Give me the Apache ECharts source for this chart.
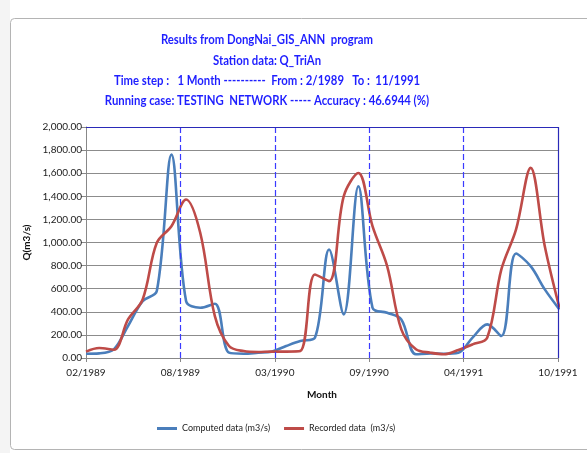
<!DOCTYPE html>
<html>
<head>
<meta charset="utf-8">
<script src="https://cdn.jsdelivr.net/npm/echarts@6/dist/echarts.min.js"></script>
<style>
html,body{margin:0;padding:0;background:#fff;}
#c{width:587px;height:453px;}
</style>
</head>
<body>
<div id="c"></div>
<script>
// Months from 02/1989 to 11/1991
var months = ['1989-02','1989-03','1989-04','1989-05','1989-06','1989-07','1989-08','1989-09','1989-10','1989-11','1989-12',
  '1990-01','1990-02','1990-03','1990-04','1990-05','1990-06','1990-07','1990-08','1990-09','1990-10','1990-11','1990-12',
  '1991-01','1991-02','1991-03','1991-04','1991-05','1991-06','1991-07','1991-08','1991-09','1991-10','1991-11'];
var computed = [37,40,75,277,493,580,1761,493,435,470,46,37,46,55,104,147,176,939,378,1487,435,392,334,32,40,37,46,176,291,190,905,795,594,421];
var recorded = [55,86,72,334,507,997,1141,1372,1084,363,104,60,52,55,55,60,723,666,1400,1602,1141,795,248,75,46,32,69,118,176,767,1112,1646,968,435];
var xTickValues = [200,400,600,800]; // interior day ticks after 02/1989 (08/1989 .. 04/1991)
var titles = ['Results from DongNai_GIS_ANN  program','Station data: Q_TriAn',
  'Time step :   1 Month ----------  From : 2/1989   To :  11/1991',
  'Running case: TESTING  NETWORK ----- Accuracy : 46.6944 (%)'];

var startUTC = Date.UTC(1989,1,1);
function dayOf(m){var p=m.split('-');return (Date.UTC(+p[0],+p[1]-1,1)-startUTC)/86400000;}
function fmt(v){var d=new Date(startUTC+v*86400000);var mm=d.getUTCMonth()+1;return (mm<10?'0':'')+mm+'/'+d.getUTCFullYear();}
var compData = months.map(function(m,i){return [dayOf(m),computed[i]];});
var recData = months.map(function(m,i){return [dayOf(m),recorded[i]];});

var titleY = [40,61,81,101];
var graphics = [
  {type:'rect',shape:{x:10.5,y:18.5,width:600,height:431,r:4},style:{fill:'none',stroke:'#b4b4b4',lineWidth:1},z:-1},
  {type:'rect',shape:{x:0,y:0,width:10,height:453},style:{fill:'#f4f4f4'},z:-2}
];
titles.forEach(function(t,i){
  graphics.push({type:'text',x:267,y:titleY[i],scaleX:0.84,
    style:{text:t,textAlign:'center',textVerticalAlign:'middle',fill:'#1f1fff',
      font:'bold 13.5px Lato, sans-serif'}});
});

var dashMarks = xTickValues.map(function(v){
  return [{coord:[v,0],lineStyle:{color:'#3a3aff',type:[6,3],width:1.2}},{coord:[v,2000]}];
});

var chart = echarts.init(document.getElementById('c'));
chart.setOption({
  animation:false,
  backgroundColor:'#fff',
  graphic:graphics,
  grid:{left:86,right:29,top:127,bottom:95},
  legend:{
    bottom:15,left:152,itemWidth:20,itemHeight:3,itemGap:14,icon:'rect',
    textStyle:{fontSize:9,color:'#222',fontFamily:'Lato, sans-serif'},
    data:['Computed data (m3/s)','Recorded data  (m3/s)']
  },
  xAxis:{
    type:'value',min:0,max:1000,interval:200,
    name:'Month',nameLocation:'middle',nameGap:32,
    nameTextStyle:{fontWeight:'bold',fontSize:10,color:'#111',fontFamily:'Lato, sans-serif'},
    axisLine:{lineStyle:{color:'#888'}},
    axisTick:{show:true,length:4,lineStyle:{color:'#888'}},
    axisLabel:{formatter:fmt,fontSize:10,color:'#222',margin:10,fontFamily:'Lato, sans-serif'},
    splitLine:{show:false}
  },
  yAxis:{
    type:'value',min:0,max:2000,interval:200,
    name:'Q(m3/s)',nameLocation:'middle',nameGap:52,
    nameTextStyle:{fontWeight:'bold',fontSize:10,color:'#111',fontFamily:'Lato, sans-serif'},
    axisLine:{show:true,lineStyle:{color:'#888'}},
    axisTick:{show:true,length:5,lineStyle:{color:'#888'}},
    axisLabel:{formatter:function(v){return v.toLocaleString('en-US',{minimumFractionDigits:2,maximumFractionDigits:2});},fontSize:10,color:'#222',margin:4,fontFamily:'Lato, sans-serif'},
    splitLine:{show:true,lineStyle:{color:'#8c8c8c',width:1}}
  },
  series:[
    {name:'grid-marks',type:'line',data:[],silent:true,z:2,color:'#3a3aff',
     markLine:{silent:true,symbol:'none',label:{show:false},animation:false,
       data:dashMarks,
       lineStyle:{color:'#3a3aff',type:[6,3],width:1.2}}},
    {name:'Computed data (m3/s)',type:'line',data:compData,smooth:0.35,showSymbol:false,
     lineStyle:{color:'#4a7ebb',width:2.6},itemStyle:{color:'#4a7ebb'},z:3},
    {name:'Recorded data  (m3/s)',type:'line',data:recData,smooth:0.35,showSymbol:false,
     lineStyle:{color:'#be4b48',width:2.6},itemStyle:{color:'#be4b48'},z:4},
    {name:'border-marks',type:'line',data:[],silent:true,z:5,color:'#2a2ab8',
     markLine:{silent:true,symbol:'none',label:{show:false},animation:false,
       data:[[{coord:[0,2000]},{coord:[1000,2000]}],[{coord:[1000,0]},{coord:[1000,2000]}]],
       lineStyle:{color:'#2a2ab8',type:'solid',width:1.2}}}
  ]
});
</script>
</body>
</html>
